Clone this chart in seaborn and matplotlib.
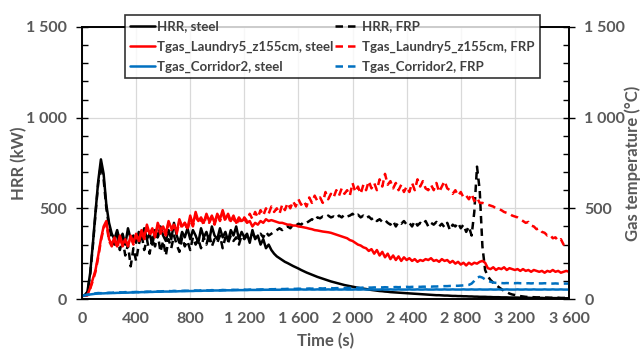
import matplotlib
matplotlib.use("Agg")
import matplotlib.pyplot as plt
import seaborn as sns
import pandas as pd
from matplotlib.ticker import MultipleLocator, FuncFormatter

# time grid (s), one reading every 20 s
time_s = list(range(0, 3601, 20))

# HRR (kW)
hrr_steel = [
    18, 20, 40, 140, 300, 480, 650, 770, 690, 520,
    420, 360, 330, 380, 320, 360, 300, 390, 330, 350,
    310, 370, 340, 390, 330, 360, 300, 380, 340, 400,
    350, 320, 380, 330, 420, 350, 310, 370, 340, 390,
    330, 380, 350, 310, 390, 340, 370, 320, 400, 350,
    330, 390, 340, 370, 320, 380, 350, 400, 330, 370,
    340, 360, 310, 380, 330, 350, 300, 330, 280, 300,
    270, 250, 235, 225, 215, 205, 198, 190, 182, 175,
    168, 160, 153, 146, 140, 134, 128, 122, 117, 112,
    107, 102, 97, 93, 89, 85, 81, 77, 74, 71,
    68, 65, 62, 59, 57, 55, 52, 50, 48, 46,
    44, 43, 41, 40, 38, 37, 36, 35, 34, 33,
    32, 31, 30, 29, 28, 27, 26, 25, 24, 23,
    22, 21, 21, 20, 19, 19, 18, 17, 17, 16,
    16, 15, 15, 14, 14, 13, 13, 12, 12, 12,
    11, 11, 10, 10, 10, 9, 9, 9, 8, 8,
    8, 8, 7, 7, 7, 7, 6, 6, 6, 6,
    6, 5, 5, 5, 5, 5, 5, 4, 4, 4,
    4,
]
hrr_frp = [
    18, 20, 35, 130, 290, 470, 640, 740, 660, 500,
    400, 340, 300, 350, 270, 330, 240, 300, 180, 280,
    210, 300, 360, 270, 330, 250, 340, 290, 360, 260,
    320, 240, 330, 280, 350, 300, 260, 340, 290, 320,
    270, 340, 300, 330, 280, 340, 300, 360, 290, 330,
    310, 350, 280, 340, 310, 350, 320, 340, 300, 350,
    330, 350, 340, 360, 340, 350, 360, 340, 370, 350,
    360, 370, 380, 390, 380, 395, 400, 390, 410, 405,
    415, 410, 425, 420, 430, 440, 430, 450, 445, 455,
    450, 460, 450, 455, 445, 460, 450, 465, 455, 460,
    470, 455, 465, 450, 460, 445, 455, 440, 450, 430,
    440, 425, 435, 420, 410, 430, 400, 425, 415, 430,
    410, 420, 400, 430, 405, 420, 410, 430, 400, 420,
    410, 425, 400, 415, 395, 420, 380, 410, 400, 420,
    390, 410, 370, 400, 350, 480, 730, 600, 290, 160,
    125, 105, 90, 78, 66, 55, 45, 38, 30, 25,
    22, 18, 16, 14, 12, 11, 10, 10, 9, 9,
    8, 8, 8, 7, 7, 7, 7, 6, 6, 6,
    6,
]

# gas temperatures (°C)
tgas_laundry5_steel = [
    17, 18, 22, 60, 110, 160, 240, 330, 400, 430,
    330, 300, 340, 290, 350, 300, 330, 290, 350, 310,
    360, 320, 380, 340, 410, 360, 390, 340, 420, 380,
    400, 360, 430, 390, 410, 370, 440, 400, 420, 390,
    460, 410, 480, 430, 450, 420, 470, 430, 460, 420,
    470, 440, 490, 440, 470, 430, 460, 420, 450, 430,
    440, 420, 430, 400, 420, 410, 430, 420, 440, 430,
    435, 430, 425, 420, 420, 415, 410, 410, 405, 405,
    400, 398, 395, 392, 388, 385, 380, 378, 375, 372,
    370, 368, 365, 360, 355, 350, 345, 340, 335, 325,
    320, 310, 300, 295, 285, 280, 265, 275, 250, 270,
    240, 260, 230, 250, 220, 240, 215, 235, 210, 230,
    215, 225, 210, 220, 205, 215, 210, 220, 215, 225,
    210, 215, 205, 220, 210, 215, 200, 210, 195, 205,
    190, 200, 185, 200, 190, 200, 195, 205, 210, 200,
    170, 165, 175, 160, 170, 165, 175, 160, 170, 165,
    160, 165, 155, 165, 155, 160, 150, 160, 155, 150,
    155, 145, 155, 150, 160, 150, 155, 145, 150, 155,
    150,
]
tgas_laundry5_frp = [
    17, 18, 20, 55, 100, 150, 230, 320, 390, 420,
    320, 290, 330, 280, 340, 290, 320, 300, 340, 300,
    350, 310, 370, 330, 390, 350, 380, 350, 400, 360,
    390, 350, 420, 380, 400, 360, 430, 390, 420, 380,
    440, 400, 460, 420, 440, 410, 460, 420, 450, 410,
    460, 430, 470, 430, 460, 420, 450, 410, 440, 420,
    450, 430, 470, 440, 480, 450, 490, 460, 500, 470,
    510, 480, 500, 470, 520, 490, 530, 500, 540, 510,
    550, 520, 540, 510, 560, 530, 570, 540, 560, 530,
    590, 550, 580, 560, 600, 570, 610, 580, 600, 570,
    640, 590, 620, 580, 630, 600, 650, 610, 640, 600,
    660, 620, 690, 630, 650, 610, 640, 600, 630, 590,
    620, 590, 640, 600, 660, 620, 650, 610, 600, 630,
    600, 640, 590, 620, 650, 610, 600, 580, 600, 570,
    590, 560, 570, 550, 580, 540, 560, 530, 530, 525,
    520, 515, 510, 500, 495, 490, 480, 475, 470, 460,
    455, 450, 440, 430, 420, 425, 405, 400, 385, 390,
    370, 365, 350, 355, 335, 340, 320, 330, 300, 310,
    300,
]
tgas_corridor2_steel = [
    18, 20, 22, 25, 27, 29, 30, 31, 31, 32,
    32, 33, 33, 34, 34, 35, 35, 35, 36, 36,
    37, 37, 38, 38, 38, 39, 39, 40, 40, 40,
    41, 41, 41, 42, 42, 42, 43, 43, 43, 44,
    44, 44, 45, 45, 45, 46, 46, 46, 46, 47,
    47, 47, 47, 48, 48, 48, 48, 49, 49, 49,
    49, 49, 50, 50, 50, 50, 50, 51, 51, 51,
    51, 51, 51, 51, 52, 52, 52, 52, 52, 52,
    52, 53, 52, 52, 53, 52, 52, 53, 52, 52,
    52, 53, 52, 52, 53, 52, 52, 53, 52, 52,
    52, 53, 52, 52, 53, 52, 52, 53, 52, 52,
    52, 53, 52, 52, 53, 52, 52, 53, 52, 52,
    52, 53, 52, 52, 53, 52, 52, 53, 52, 52,
    52, 53, 52, 52, 53, 52, 52, 53, 52, 52,
    52, 53, 52, 52, 53, 52, 52, 53, 52, 52,
    52, 53, 52, 52, 53, 52, 52, 53, 52, 52,
    52, 53, 52, 52, 53, 52, 52, 53, 52, 52,
    52, 53, 52, 52, 53, 52, 52, 53, 52, 52,
    52,
]
tgas_corridor2_frp = [
    18, 21, 24, 27, 30, 31, 33, 32, 34, 33,
    35, 34, 36, 35, 37, 36, 38, 37, 38, 38,
    39, 38, 40, 39, 41, 40, 42, 41, 42, 42,
    43, 42, 44, 43, 45, 44, 45, 45, 46, 45,
    46, 46, 47, 46, 48, 47, 48, 47, 49, 48,
    49, 48, 50, 49, 50, 50, 51, 50, 51, 51,
    52, 51, 52, 52, 53, 52, 53, 53, 54, 53,
    54, 54, 55, 54, 55, 55, 56, 55, 56, 56,
    57, 56, 57, 57, 58, 57, 58, 58, 59, 58,
    59, 59, 60, 59, 60, 60, 61, 60, 61, 61,
    62, 61, 62, 62, 63, 62, 63, 63, 64, 63,
    64, 64, 65, 64, 65, 65, 66, 65, 66, 66,
    67, 66, 67, 67, 68, 67, 68, 68, 69, 68,
    69, 69, 70, 70, 71, 71, 72, 72, 73, 73,
    74, 75, 76, 78, 85, 100, 118, 123, 118, 108,
    100, 95, 91, 89, 88, 88, 87, 88, 87, 88,
    87, 88, 87, 87, 86, 87, 86, 87, 86, 86,
    86, 87, 86, 86, 85, 86, 85, 86, 85, 85,
    85,
]

legend_labels = [
    "HRR, steel", "Tgas_Laundry5_z155cm, steel", "Tgas_Corridor2, steel",
    "HRR, FRP", "Tgas_Laundry5_z155cm, FRP", "Tgas_Corridor2, FRP",
]

df = pd.DataFrame({
    "time": time_s,
    "hrr_steel": hrr_steel,
    "hrr_frp": hrr_frp,
    "l5_steel": tgas_laundry5_steel,
    "l5_frp": tgas_laundry5_frp,
    "c2_steel": tgas_corridor2_steel,
    "c2_frp": tgas_corridor2_frp,
})

sns.set_style("white")
plt.rcParams["font.family"] = ["Lato", "DejaVu Sans"]
plt.rcParams["font.weight"] = "bold"

GREY = "#595959"
RED = "#FF0000"
BLUE = "#0070C0"
DASH = (0, (3, 2))
LW = 1.8

fig = plt.figure(figsize=(6.43, 3.5), dpi=100)
ax = fig.add_axes([0.1275, 0.1457, 0.7574, 0.7772])
ax2 = ax.twinx()

sns.lineplot(data=df, x="time", y="hrr_steel", ax=ax, color="black", lw=LW, estimator=None, legend=False)
sns.lineplot(data=df, x="time", y="hrr_frp", ax=ax, color="black", lw=LW, linestyle=DASH, estimator=None, legend=False)
sns.lineplot(data=df, x="time", y="l5_steel", ax=ax2, color=RED, lw=LW, estimator=None, legend=False)
sns.lineplot(data=df, x="time", y="l5_frp", ax=ax2, color=RED, lw=LW, linestyle=DASH, estimator=None, legend=False)
sns.lineplot(data=df, x="time", y="c2_steel", ax=ax2, color=BLUE, lw=LW, estimator=None, legend=False)
sns.lineplot(data=df, x="time", y="c2_frp", ax=ax2, color=BLUE, lw=LW, linestyle=DASH, estimator=None, legend=False)

fmt = FuncFormatter(lambda v, pos: f"{int(round(v)):,}".replace(",", " "))
for a in (ax, ax2):
    a.set_xlim(0, 3600)
    a.set_ylim(0, 1500)
    a.yaxis.set_major_locator(MultipleLocator(500))
    a.yaxis.set_minor_locator(MultipleLocator(100))
    a.yaxis.set_major_formatter(fmt)
    a.tick_params(which="major", direction="inout", length=8, width=1, color="black",
                  labelcolor=GREY, labelsize=11.5, pad=6)
    a.tick_params(which="minor", direction="in", length=4, width=1, color="black")
    for s in a.spines.values():
        s.set_color("black")
        s.set_linewidth(1.2)

ax.xaxis.set_major_locator(MultipleLocator(400))
ax.xaxis.set_minor_locator(MultipleLocator(40))
ax.xaxis.set_major_formatter(fmt)
ax.tick_params(axis="x", which="major", pad=5)
ax.tick_params(axis="y", which="major", pad=7)
ax2.tick_params(axis="y", which="major", pad=7)
ax.grid(True, which="major", color="#d9d9d9", lw=0.9)
ax.set_axisbelow(True)

ax.set_xlabel("Time (s)", fontsize=12, fontweight="bold", color=GREY)
ax.set_ylabel("HRR (kW)", fontsize=12, fontweight="bold", color=GREY)
ax2.set_ylabel("Gas temperature (°C)", fontsize=12, fontweight="bold", color=GREY)
ax.xaxis.set_label_coords(0.5, -0.125)
ax.yaxis.set_label_coords(-0.112, 0.5)
ax2.yaxis.set_label_coords(1.113, 0.5)

handles = [ax.lines[0], ax2.lines[0], ax2.lines[2], ax.lines[1], ax2.lines[1], ax2.lines[3]]
leg = ax2.legend(handles, legend_labels, ncol=2, loc="upper left", bbox_to_anchor=(0.088, 1.044),
                 frameon=True, fancybox=False, prop={"weight": "bold", "size": 9.5},
                 handlelength=1.9, handletextpad=0.15, columnspacing=0.1, labelspacing=0.62,
                 borderpad=0.4, borderaxespad=0)
leg.get_frame().set_edgecolor("black")
leg.get_frame().set_linewidth(1.2)
for t in leg.get_texts():
    t.set_color("#404040")
leg.set_zorder(10)

fig.savefig("out.png", dpi=100)
